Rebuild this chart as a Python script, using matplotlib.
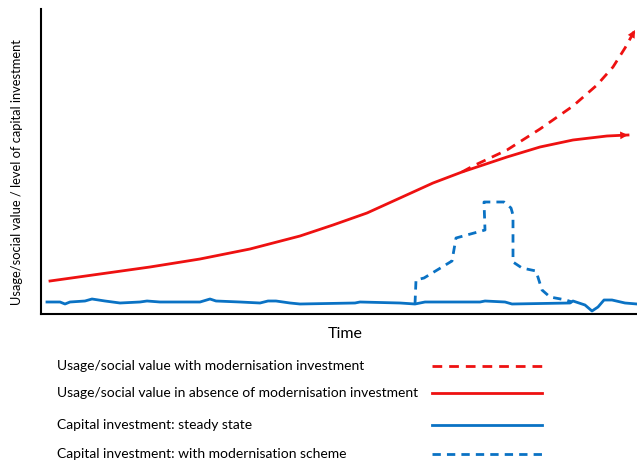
import matplotlib
matplotlib.use("Agg")
import matplotlib.pyplot as plt
from matplotlib.lines import Line2D

# Time axis / value axis readings for each series
red_solid_t = [9, 59, 109, 159, 209, 259, 292, 326, 359, 392, 421, 466, 499, 532, 566, 587]
red_solid_v = [33, 40, 47, 55, 65, 78, 89, 101, 116, 131, 142, 157, 167, 174, 178, 179]

red_dash_t = [421, 432, 466, 499, 532, 556, 572, 584, 594]
red_dash_v = [142, 148, 164, 185, 208, 229, 247, 266, 284]

blue_solid_t = [6, 19, 24, 29, 44, 51, 64, 79, 99, 106, 119, 159, 169, 175, 199, 219, 227,
                235, 249, 259, 314, 319, 359, 374, 384, 439, 444, 464, 471, 529, 532, 544,
                551, 557, 563, 571, 584, 596]
blue_solid_v = [12, 12, 10, 12, 13, 15, 13, 11, 12, 13, 12, 12, 15, 13, 12, 11, 13,
                13, 11, 10, 11, 12, 11, 10, 12, 12, 13, 12, 10, 11, 13, 9,
                3, 7, 14, 14, 11, 10]

blue_dash_t = [374, 375, 383, 411, 415, 444, 443, 463, 470, 472, 472, 481, 495, 501, 509, 525, 531]
blue_dash_v = [10, 34, 36, 53, 76, 84, 112, 112, 106, 99, 52, 46, 43, 24, 17, 14, 12]

legend_labels = [
    "Usage/social value with modernisation investment",
    "Usage/social value in absence of modernisation investment",
    "Capital investment: steady state",
    "Capital investment: with modernisation scheme",
]

RED = "#EE1111"
BLUE = "#0A72C4"
FONT = ["Lato", "DejaVu Sans"]

fig = plt.figure(figsize=(6.37, 4.63), dpi=100)
ax = fig.add_axes([41 / 637, 149 / 463, 596 / 637, 305 / 463])
ax.set_xlim(0, 596)
ax.set_ylim(0, 305)

lw = 2.0
ax.plot(red_solid_t, red_solid_v, color=RED, lw=lw, solid_joinstyle="round")
ax.plot(red_dash_t, red_dash_v, color=RED, lw=lw, dashes=(3.5, 2.5), clip_on=False)
ax.plot(blue_solid_t, blue_solid_v, color=BLUE, lw=lw, clip_on=False,
        solid_joinstyle="round")
ax.plot(blue_dash_t, blue_dash_v, color=BLUE, lw=lw, dashes=(3.0, 2.2))

# arrow heads at the ends of the red curves
for tt, vv in ((red_solid_t, red_solid_v), (red_dash_t, red_dash_v)):
    ax.annotate("", xy=(tt[-1], vv[-1]), xytext=(tt[-2], vv[-2]),
                arrowprops=dict(arrowstyle="-|>", color=RED, lw=0,
                                mutation_scale=14, shrinkA=0, shrinkB=0),
                annotation_clip=False)

for s in ("top", "right"):
    ax.spines[s].set_visible(False)
for s in ("left", "bottom"):
    ax.spines[s].set_linewidth(1.5)
    ax.spines[s].set_color("black")
ax.set_xticks([])
ax.set_yticks([])

fig.text(345 / 637, 1 - 334 / 463, "Time", ha="center", va="center",
         fontsize=11.5, family=FONT)
fig.text(17 / 637, 1 - 172 / 463, "Usage/social value / level of capital investment",
         rotation=90, ha="center", va="center", fontsize=9.3, family=FONT)

# legend rows
rows_y = [366, 393, 425, 454]
styles = [(RED, (3.5, 2.5)), (RED, None), (BLUE, None), (BLUE, (3.0, 2.2))]
for label, y, (col, dash) in zip(legend_labels, rows_y, styles):
    fy = 1 - y / 463
    fig.text(57 / 637, fy, label, ha="left", va="center", fontsize=10, family=FONT)
    ln = Line2D([432 / 637, 542 / 637], [fy, fy], transform=fig.transFigure,
                color=col, lw=lw)
    if dash:
        ln.set_dashes(dash)
    fig.add_artist(ln)

fig.savefig("out.png", dpi=100)
